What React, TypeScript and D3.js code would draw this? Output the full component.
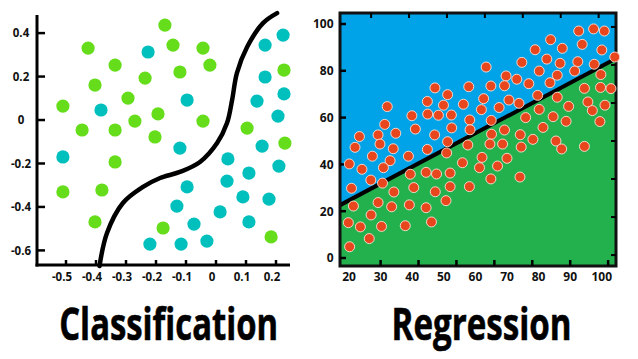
import React from "react";
import * as d3 from "d3";

// ---------- Classification data ----------
const clsXTicks = [-0.5, -0.4, -0.3, -0.2, -0.1, 0, 0.1, 0.2];
const clsYTicks = [0.4, 0.2, 0, -0.2, -0.4, -0.6];
const clsGreen: [number, number][] = [
  [-0.157, 0.437], [-0.413, 0.331], [-0.13, 0.345], [-0.03, 0.331], [-0.323, 0.253],
  [-0.007, 0.253], [-0.107, 0.221], [-0.223, 0.193], [-0.39, 0.161], [-0.28, 0.101],
  [-0.497, 0.064], [-0.18, 0.028], [-0.257, -0.005], [-0.03, -0.005], [-0.433, -0.046],
  [-0.323, -0.046], [-0.19, -0.078], [0.117, -0.037], [0.243, -0.106], [0.24, 0.23],
  [-0.323, -0.193], [-0.497, -0.331], [-0.367, -0.322], [-0.39, -0.469], [-0.163, -0.497],
  [0.197, -0.538],
];
const clsTeal: [number, number][] = [
  [-0.213, 0.313], [0.237, 0.391], [0.177, 0.345], [0.177, 0.198], [0.24, 0.12],
  [0.15, 0.087], [0.22, 0.018], [-0.083, 0.092], [-0.37, 0.046], [-0.107, -0.129],
  [-0.497, -0.17], [0.167, -0.12], [0.053, -0.179], [0.223, -0.212], [0.123, -0.244],
  [0.05, -0.281], [-0.083, -0.308], [-0.117, -0.396], [0.103, -0.354], [0.19, -0.364],
  [0.027, -0.423], [-0.06, -0.479], [0.123, -0.469], [-0.207, -0.571], [-0.103, -0.571],
  [-0.017, -0.557],
];
const clsBoundary: [number, number][] = [
  [-0.375, -0.672], [-0.35, -0.52], [-0.297, -0.382], [-0.23, -0.308], [-0.173, -0.267],
  [-0.107, -0.239], [-0.04, -0.193], [0.017, -0.106], [0.05, -0.014], [0.067, 0.092],
  [0.083, 0.216], [0.117, 0.336], [0.17, 0.446], [0.217, 0.492],
];

// ---------- Regression data ----------
const regXTicks = [20, 30, 40, 50, 60, 70, 80, 90, 100];
const regYTicks = [0, 20, 40, 60, 80, 100];
const regBottomMarks = [30, 42, 54, 66, 78, 90, 102];
const regTopMarks = [27, 39, 51, 63, 75, 87, 99];
const regRightMarks = [1.25, 17.5, 33.75, 50, 66.25, 82.5, 98.75];
const regIntercept = 10.3;
const regSlope = 0.717;
const regPoints: [number, number][] = [
  [92.7, 97.0], [97.4, 97.9], [100.8, 97.0], [83.8, 93.3], [93.8, 91.3], [78.9, 89.0],
  [87.5, 89.6], [100.0, 88.9], [74.7, 83.6], [82.6, 85.0], [86.8, 83.2], [92.4, 83.9],
  [97.6, 82.8], [104.1, 85.9], [63.4, 81.6], [80.2, 79.9], [91.4, 79.9], [85.9, 78.1],
  [99.7, 78.4], [69.7, 77.8], [73.1, 76.4], [83.6, 74.9], [76.9, 74.5], [64.9, 73.5],
  [69.2, 73.6], [57.9, 73.2], [47.2, 72.7], [94.5, 72.5], [99.6, 72.9], [102.9, 72.4],
  [51.2, 69.8], [79.7, 69.5], [85.9, 68.7], [62.6, 68.1], [70.6, 67.5], [44.8, 66.9],
  [73.8, 66.1], [56.2, 65.7], [49.9, 65.3], [101.0, 65.3], [32.1, 64.7], [67.5, 64.3],
  [80.2, 63.5], [89.5, 64.8], [95.6, 66.7], [61.9, 63.4], [97.0, 63.0], [39.9, 60.8],
  [48.3, 61.0], [52.4, 61.1], [44.9, 61.5], [58.2, 59.0], [65.0, 58.8], [75.9, 60.0],
  [84.6, 60.4], [31.3, 57.1], [88.7, 58.4], [99.4, 58.3], [52.5, 55.6], [41.0, 55.1],
  [81.4, 55.8], [58.3, 54.8], [69.2, 54.7], [34.8, 53.3], [29.2, 52.6], [47.1, 52.6],
  [65.1, 52.9], [74.2, 52.7], [23.3, 51.9], [78.2, 50.7], [85.5, 50.0], [51.2, 49.7],
  [29.8, 48.7], [64.6, 48.7], [68.6, 48.7], [57.6, 48.3], [21.9, 47.3], [74.5, 47.4],
  [34.0, 46.7], [44.8, 46.4], [87.3, 46.6], [94.5, 47.7], [50.9, 44.9], [27.4, 43.5],
  [38.8, 43.5], [62.1, 43.0], [70.0, 42.6], [33.0, 41.6], [55.9, 40.7], [20.1, 40.2],
  [67.0, 39.3], [30.9, 38.6], [24.1, 37.9], [61.3, 38.6], [39.4, 35.8], [44.4, 36.6],
  [47.7, 35.9], [52.0, 36.3], [26.9, 33.3], [30.6, 32.0], [64.9, 33.8], [74.1, 34.6],
  [20.8, 29.8], [40.5, 30.1], [52.0, 30.5], [58.1, 30.5], [34.2, 28.2], [47.3, 28.3],
  [29.2, 23.7], [50.7, 24.5], [21.4, 22.2], [33.5, 21.9], [39.1, 22.7], [44.4, 21.5],
  [27.0, 18.4], [46.1, 15.4], [19.8, 15.1], [37.8, 13.8], [30.3, 13.5], [23.6, 13.3],
  [26.4, 8.3], [20.2, 4.8],
];

const W = 638;
const H = 359;
const FONT = "'Open Sans', 'DejaVu Sans', sans-serif";

export default function App() {
  // Classification scales
  const xL = d3.scaleLinear().domain([-0.5, 0.2]).range([62, 272]);
  const yL = d3.scaleLinear().domain([-0.6, 0.4]).range([250.4, 33.1]);
  const axL = { left: 37, bottom: 265, top: 15, right: 290 };
  const curve = d3
    .line<[number, number]>()
    .x((d) => xL(d[0]))
    .y((d) => yL(d[1]))
    .curve(d3.curveCatmullRom.alpha(0.5))(clsBoundary) as string;

  // Regression scales
  const xR = d3.scaleLinear().domain([20, 100]).range([349, 601.8]);
  const yR = d3.scaleLinear().domain([0, 100]).range([258, 24]);
  const fr = { left: 340, right: 616, top: 13, bottom: 266 };
  const x0 = xR.invert(fr.left);
  const x1 = xR.invert(fr.right);
  const fit = (x: number) => regIntercept + regSlope * x;
  const greenPoly = [
    [xR(x0), yR(fit(x0))],
    [xR(x1), yR(fit(x1))],
    [fr.right, fr.bottom],
    [fr.left, fr.bottom],
  ]
    .map((p) => p.join(","))
    .join(" ");

  return (
    <svg
      width={W}
      height={H}
      style={{ position: "absolute", left: 0, top: 0, background: "#fff" }}
      fontFamily={FONT}
    >
      <rect width={W} height={H} fill="#fff" />

      {/* ---------- Classification ---------- */}
      <g>
        {clsGreen.map((d, i) => (
          <circle key={"g" + i} cx={xL(d[0])} cy={yL(d[1])} r={6.6} fill="#66dd1b" />
        ))}
        {clsTeal.map((d, i) => (
          <circle key={"t" + i} cx={xL(d[0])} cy={yL(d[1])} r={6.6} fill="#00c0bd" />
        ))}
        <path d={curve} fill="none" stroke="#000" strokeWidth={4.5} strokeLinecap="round" />
        {/* axes */}
        <line x1={axL.left} x2={axL.left} y1={axL.top} y2={axL.bottom + 1.5} stroke="#000" strokeWidth={3} />
        <line x1={axL.left - 1.5} x2={axL.right} y1={axL.bottom} y2={axL.bottom} stroke="#000" strokeWidth={3} />
        {clsYTicks.map((t) => (
          <g key={"yl" + t}>
            <line x1={axL.left} x2={axL.left + 8} y1={yL(t)} y2={yL(t)} stroke="#000" strokeWidth={2.5} />
            <text x={21} y={yL(t)} dy="0.36em" textAnchor="middle" fontSize={11.5} fontWeight={700} fill="#111">
              {t === 0 ? "0" : t.toFixed(1)}
            </text>
          </g>
        ))}
        {clsXTicks.map((t) => (
          <g key={"xl" + t}>
            <line x1={xL(t) + 4} x2={xL(t) + 4} y1={axL.bottom} y2={axL.bottom - 5} stroke="#000" strokeWidth={2.5} />
            <text x={xL(t)} y={281} textAnchor="middle" fontSize={11.5} fontWeight={700} fill="#111">
              {t === 0 ? "0" : t.toFixed(1)}
            </text>
          </g>
        ))}
        <text
          x={168.7}
          y={340}
          textAnchor="middle"
          fontSize={44}
          fontWeight={700}
          textLength={219}
          lengthAdjust="spacingAndGlyphs"
          fill="#000"
          stroke="#000"
          strokeWidth={0.6}
        >
          Classification
        </text>
      </g>

      {/* ---------- Regression ---------- */}
      <g>
        <rect x={fr.left} y={fr.top} width={fr.right - fr.left} height={fr.bottom - fr.top} fill="#00a2e8" />
        <polygon points={greenPoly} fill="#22b14c" />
        <line
          x1={xR(x0)}
          y1={yR(fit(x0))}
          x2={xR(x1)}
          y2={yR(fit(x1))}
          stroke="#000"
          strokeWidth={4}
        />
        <rect
          x={fr.left}
          y={fr.top}
          width={fr.right - fr.left}
          height={fr.bottom - fr.top}
          fill="none"
          stroke="#111"
          strokeWidth={3}
        />
        {regYTicks.map((t) => (
          <g key={"yr" + t}>
            <line x1={fr.left} x2={fr.left + 6} y1={yR(t)} y2={yR(t)} stroke="#000" strokeWidth={2.5} />
            <text x={333.5} y={yR(t)} dy="0.36em" textAnchor="end" fontSize={12} fontWeight={700} fill="#111">
              {t}
            </text>
          </g>
        ))}
        {regBottomMarks.map((t) => (
          <line key={"bm" + t} x1={xR(t)} x2={xR(t)} y1={fr.bottom} y2={fr.bottom - 6} stroke="#000" strokeWidth={2.5} />
        ))}
        {regTopMarks.map((t) => (
          <line key={"tm" + t} x1={xR(t)} x2={xR(t)} y1={fr.top} y2={fr.top + 5} stroke="#000" strokeWidth={2} />
        ))}
        {regRightMarks.map((t) => (
          <line key={"rm" + t} x1={fr.right} x2={fr.right - 5} y1={yR(t)} y2={yR(t)} stroke="#000" strokeWidth={2} />
        ))}
        {regXTicks.map((t) => (
          <text key={"xr" + t} x={xR(t)} y={281} textAnchor="middle" fontSize={12} fontWeight={700} fill="#111">
            {t}
          </text>
        ))}
        {regPoints.map((d, i) => (
          <circle
            key={"r" + i}
            cx={xR(d[0])}
            cy={yR(d[1])}
            r={5}
            fill="#e8461c"
            stroke="#fbe3d8"
            strokeWidth={0.9}
          />
        ))}
        <text
          x={481.6}
          y={340}
          textAnchor="middle"
          fontSize={44}
          fontWeight={700}
          textLength={180}
          lengthAdjust="spacingAndGlyphs"
          fill="#000"
          stroke="#000"
          strokeWidth={0.6}
        >
          Regression
        </text>
      </g>
    </svg>
  );
}
